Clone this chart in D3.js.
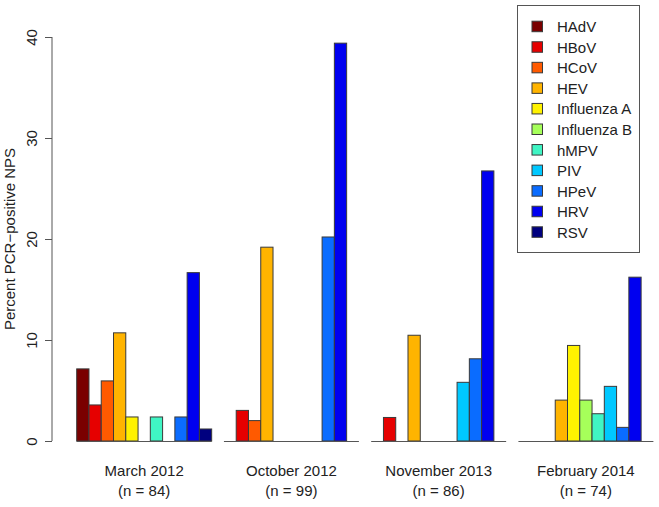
<!DOCTYPE html>
<html><head><meta charset="utf-8">
<script src="https://cdn.jsdelivr.net/npm/d3@7"></script>
<style>body{margin:0;background:#fff}svg{display:block}text{font-family:"Liberation Sans",Arial,sans-serif;fill:#222}</style>
</head><body><svg id="c" width="659" height="507"></svg>
<script>
const viruses = ["HAdV","HBoV","HCoV","HEV","Influenza A","Influenza B","hMPV","PIV","HPeV","HRV","RSV"];
const colors = ["#7a0000","#e60000","#ff5a00","#ffb400","#fff200","#a6ff5a","#40f5c4","#00c8ff","#0a6cff","#0000f0","#00007f"];
const periods = ["March 2012","October 2012","November 2013","February 2014"];
const nLabels = ["(n = 84)","(n = 99)","(n = 86)","(n = 74)"];
const march2012 = [7.14,3.57,5.95,10.71,2.38,0,2.38,0,2.38,16.67,1.19];
const october2012 = [0,3.03,2.02,19.19,0,0,0,0,20.20,39.39,0];
const november2013 = [0,2.33,0,10.47,0,0,0,5.81,8.14,26.74,0];
const february2014 = [0,0,0,4.05,9.46,4.05,2.70,5.41,1.35,16.22,0];
const yTicks = [0,10,20,30,40];
const series = [march2012, october2012, november2013, february2014];

const svg = d3.select("#c");
const y = d3.scaleLinear().domain([0,40]).range([441,37]);
const bw = 12.27;
const x = d3.scaleLinear().domain([0,47]).range([76.7, 76.7 + 47*bw]);

series.forEach((vals, g) => {
  const start = g*12;
  const grp = svg.append("g");
  grp.selectAll("rect").data(vals.map((v,i)=>({v,i})).filter(d=>d.v>0)).join("rect")
    .attr("x", d => x(start + d.i))
    .attr("width", x(1)-x(0))
    .attr("y", d => y(d.v))
    .attr("height", d => y(0) - y(d.v))
    .attr("fill", d => colors[d.i])
    .attr("stroke", "#3a3a3a").attr("stroke-width", 1);
  svg.append("line").attr("x1", x(start)).attr("x2", x(start+11))
    .attr("y1", y(0)+0.5).attr("y2", y(0)+0.5).attr("stroke","#555").attr("stroke-width",1.2);
  const cx = (x(start)+x(start+11))/2;
  svg.append("text").attr("x",cx).attr("y",476).attr("text-anchor","middle").attr("font-size",15).text(periods[g]);
  svg.append("text").attr("x",cx).attr("y",496).attr("text-anchor","middle").attr("font-size",15).text(nLabels[g]);
});

const ax = svg.append("g").attr("transform","translate(52,0)")
  .call(d3.axisLeft(y).tickValues(yTicks).tickSize(7).tickFormat(d3.format("d")));
ax.select(".domain").attr("stroke","#555").attr("d", `M0,${y(40)}V${y(0)}`);
ax.selectAll(".tick line").attr("stroke","#555");
ax.selectAll(".tick text").attr("font-size",15).attr("fill","#222")
  .attr("transform","rotate(-90)").attr("x",0).attr("y",-15).attr("dy",0)
  .attr("text-anchor","middle");

svg.append("text").attr("transform","translate(15,239) rotate(-90)")
  .attr("text-anchor","middle").attr("font-size",15).text("Percent PCR\u2212positive NPS");

const lg = svg.append("g");
lg.append("rect").attr("x",517.5).attr("y",5.5).attr("width",122).attr("height",247)
  .attr("fill","#fff").attr("stroke","#555").attr("stroke-width",1);
viruses.forEach((v,i) => {
  const cy = 26.7 + i*20.56;
  lg.append("rect").attr("x",532).attr("y",cy-5.5).attr("width",10.5).attr("height",10.5)
    .attr("fill",colors[i]).attr("stroke","#3a3a3a").attr("stroke-width",1);
  lg.append("text").attr("x",557).attr("y",cy+5.5).attr("font-size",15).text(v);
});
</script></body></html>
